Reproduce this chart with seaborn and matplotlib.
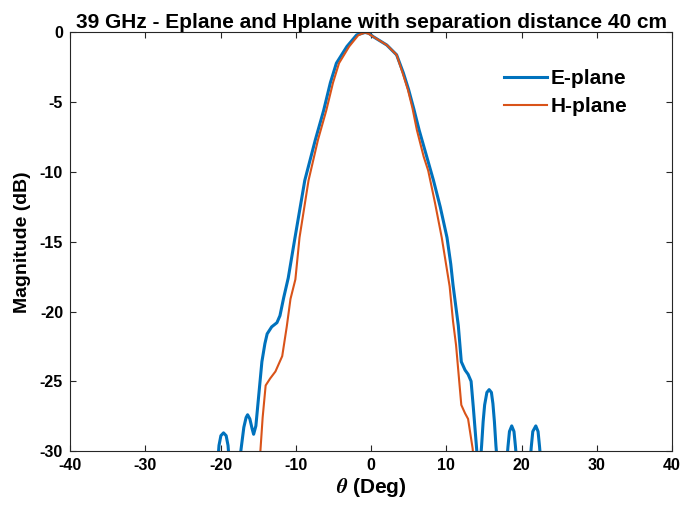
import pandas as pd
import seaborn as sns
import matplotlib.pyplot as plt

# E-plane pattern (theta in deg, magnitude in dB); values below -30 fall off the axis
e_theta = [-20.4, -20.2, -19.95, -19.6, -19.25, -19.0, -18.8, -17.8,
           -17.3, -16.9, -16.6, -16.4, -16.1, -15.8, -15.6, -15.3, -14.9, -14.5,
           -14.1, -13.8, -13.2, -12.5, -12.1, -11.6, -11.0, -10.1, -8.8, -7.4,
           -6.3, -5.4, -4.6, -3.2, -1.9, -0.8, -0.3, 0.3, 1.2, 2.1,
           3.4, 4.3, 5.0, 5.7, 6.4, 7.3, 8.3, 9.2, 10.1, 10.6, 10.9,
           11.6, 12.0, 12.5, 12.9, 13.3, 13.6, 14.0, 14.2,
           14.5, 14.7, 14.9, 15.1, 15.4, 15.7, 16.0, 16.2, 16.4, 16.6, 16.8,
           18.0, 18.2, 18.4, 18.7, 19.0, 19.2, 19.4,
           21.1, 21.3, 21.5, 21.9, 22.2, 22.4, 22.6]
e_mag = [-31.0, -29.6, -28.9, -28.7, -28.9, -29.6, -31.0, -32.0,
         -30.0, -28.3, -27.6, -27.4, -27.7, -28.4, -28.8, -28.2, -25.9, -23.6,
         -22.3, -21.6, -21.1, -20.8, -20.3, -19.0, -17.6, -14.7, -10.6, -7.7,
         -5.6, -3.6, -2.2, -1.0, -0.17, 0.0, -0.05, -0.3, -0.6, -0.9,
         -1.6, -2.9, -4.1, -5.5, -7.0, -8.7, -10.6, -12.5, -14.7, -16.6, -18.1,
         -21.0, -23.6, -24.2, -24.5, -25.0, -26.9, -29.6, -31.0,
         -31.0, -29.6, -27.9, -26.7, -25.8, -25.6, -25.8, -26.6, -27.9, -29.6, -31.0,
         -31.0, -29.7, -28.6, -28.2, -28.6, -29.7, -31.0,
         -31.0, -29.7, -28.6, -28.2, -28.6, -29.7, -31.0]

# H-plane pattern
h_theta = [-14.9, -14.7, -14.4, -14.0, -13.4, -12.7, -11.8, -11.2, -10.7, -10.05,
           -9.5, -8.3, -7.05, -5.95, -5.05, -4.25, -2.9, -1.7, -0.8, -0.3,
           0.3, 1.2, 2.1, 3.4, 4.2, 4.9, 5.5, 6.1, 7.0, 7.6, 8.5,
           9.4, 10.45, 10.9, 11.3, 12.0, 12.5, 12.9, 13.5, 13.8]
h_mag = [-31.5, -30.0, -27.6, -25.3, -24.8, -24.3, -23.2, -21.1, -19.1, -17.7,
         -14.7, -10.6, -7.7, -5.6, -3.6, -2.2, -1.0, -0.2, 0.0, -0.1,
         -0.3, -0.6, -0.9, -1.6, -2.9, -4.1, -5.4, -7.0, -8.9, -9.9, -12.2,
         -14.7, -18.2, -20.7, -22.4, -26.7, -27.3, -27.7, -29.8, -31.5]

e_df = pd.DataFrame({'theta': e_theta, 'mag': e_mag})
h_df = pd.DataFrame({'theta': h_theta, 'mag': h_mag})

plt.rcParams['font.family'] = ['Liberation Sans', 'DejaVu Sans']
plt.rcParams['font.weight'] = 'bold'
plt.rcParams['axes.unicode_minus'] = False
plt.rcParams['mathtext.fontset'] = 'stix'

fig = plt.figure(figsize=(6.83, 5.11), dpi=100)
ax = fig.add_axes([0.1025, 0.1174, 0.8814, 0.819])

sns.lineplot(data=e_df, x='theta', y='mag', sort=False, color='#0072BD', lw=2.2,
             label='E-plane', ax=ax)
sns.lineplot(data=h_df, x='theta', y='mag', sort=False, color='#D95319', lw=1.5,
             label='H-plane', ax=ax)

ax.set_xlim(-40, 40)
ax.set_ylim(-30, 0)
ax.set_xticks(range(-40, 41, 10))
ax.set_yticks(range(-30, 1, 5))
ax.tick_params(direction='in', top=True, right=True, labelsize=11.5, length=4,
               color='#262626', width=0.8, pad=5)
for lab in ax.get_xticklabels() + ax.get_yticklabels():
    lab.set_fontweight('bold')
for s in ax.spines.values():
    s.set_color('#262626')
    s.set_linewidth(0.8)

ax.set_title('39 GHz - Eplane and Hplane with separation distance 40 cm',
             fontsize=15, fontweight='bold', pad=3)
ax.set_xlabel(r'$\theta$ (Deg)', fontsize=15, fontweight='bold', labelpad=2)
ax.set_ylabel('Magnitude (dB)', fontsize=14, fontweight='bold', labelpad=6)

leg = ax.legend(loc='upper left', bbox_to_anchor=(0.689, 0.957), frameon=False,
                prop={'weight': 'bold', 'size': 15}, handlelength=2.1,
                handletextpad=0.15, labelspacing=0.42)

fig.savefig('out.png', dpi=100)
